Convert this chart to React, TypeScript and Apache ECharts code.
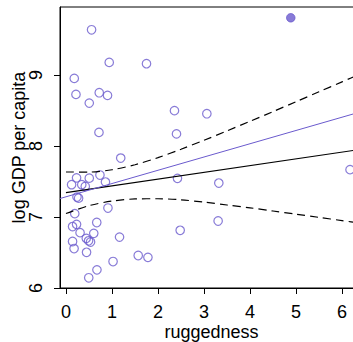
import React, { useEffect, useRef } from "react";
import * as echarts from "echarts";

// Open circles: ruggedness vs log GDP per capita
const ruggedness = [
  0.556, 0.94, 1.75, 0.18, 0.217, 0.506, 0.723, 0.903, 2.358, 0.717, 2.402, 1.19,
  3.062, 6.174, 2.423, 3.322, 2.482, 3.307,
  0.122, 0.23, 0.343, 0.419, 0.506, 0.738, 0.858, 0.239, 0.274, 0.191, 0.912,
  0.143, 0.23, 0.669, 0.306, 0.604, 0.143, 0.176, 0.441, 0.491, 0.534, 0.447,
  1.164, 1.023, 0.673, 0.495, 1.57, 1.781,
];
const logGdp = [
  9.639, 9.179, 9.161, 8.954, 8.728, 8.606, 8.752, 8.714, 8.499, 8.193, 8.172, 7.831,
  8.456, 7.668, 7.545, 7.479, 6.813, 6.944,
  7.456, 7.552, 7.456, 7.432, 7.548, 7.592, 7.493, 7.282, 7.266, 7.048, 7.127,
  6.866, 6.897, 6.923, 6.78, 6.77, 6.655, 6.556, 6.7, 6.665, 6.648, 6.503,
  6.717, 6.373, 6.256, 6.144, 6.458, 6.432,
];
// Filled point
const highlightRuggedness = [4.886];
const highlightLogGdp = [9.808];

// Mean regression line (black)
const meanX = [0, 6.45];
const meanY = [7.345, 7.958];
// Interval (dashed)
const bandX = [0, 0.5, 1, 1.5, 2, 2.5, 3, 3.5, 4, 4.5, 5, 5.5, 6, 6.45];
const upperY = [7.635, 7.634, 7.666, 7.737, 7.837, 7.955, 8.082, 8.214, 8.349, 8.486, 8.625, 8.765, 8.905, 9.031];
const lowerY = [7.05, 7.16, 7.225, 7.255, 7.258, 7.243, 7.21, 7.17, 7.13, 7.085, 7.04, 6.995, 6.95, 6.91];
// Purple fit line
const fitX = [-0.13, 6.456];
const fitY = [7.261, 8.492];

const xTicks = [0, 1, 2, 3, 4, 5, 6];
const yTicks = [6, 7, 8, 9];

const PURPLE = "#6A5ACD";
const FONT = "'Liberation Sans', Arial, Helvetica, sans-serif";

export default function App() {
  const ref = useRef<HTMLDivElement>(null);
  useEffect(() => {
    if (!ref.current) return;
    const chart = echarts.init(ref.current, null, { renderer: "svg" });
    const zip = (xs: number[], ys: number[]) => xs.map((x, i) => [x, ys[i]]);
    chart.setOption({
      animation: false,
      backgroundColor: "#ffffff",
      grid: {
        left: 60,
        top: 7,
        right: -10,
        bottom: 54,
        containLabel: false,
        outerBoundsMode: "none",
        show: true,
        borderColor: "#000",
        borderWidth: 1,
        backgroundColor: "transparent",
      },
      xAxis: {
        type: "value",
        min: -0.13,
        max: 6.456,
        name: "ruggedness",
        nameLocation: "middle",
        nameGap: 35,
        nameMoveOverlap: false,
        nameTextStyle: { fontFamily: FONT, fontSize: 18, color: "#000" },
        axisLine: { show: true, onZero: false, lineStyle: { color: "#000", width: 1 } },
        axisTick: { show: true, length: 6, lineStyle: { color: "#000" }, customValues: xTicks },
        axisLabel: {
          fontFamily: FONT,
          fontSize: 18,
          color: "#000",
          margin: 15,
          customValues: xTicks,
          formatter: (v: number) => String(v),
        },
        splitLine: { show: false },
      },
      yAxis: {
        type: "value",
        min: 6,
        max: 9.96,
        name: "log GDP per capita",
        nameLocation: "middle",
        nameGap: 32,
        nameMoveOverlap: false,
        nameTextStyle: { fontFamily: FONT, fontSize: 18, color: "#000" },
        axisLine: { show: true, onZero: false, lineStyle: { color: "#000", width: 1 } },
        axisTick: { show: true, length: 6, lineStyle: { color: "#000" }, customValues: yTicks },
        axisLabel: {
          fontFamily: FONT,
          fontSize: 18,
          color: "#000",
          margin: 15,
          rotate: 90,
          customValues: yTicks,
          formatter: (v: number) => String(v),
        },
        splitLine: { show: false },
      },
      series: [
        {
          type: "scatter",
          data: zip(ruggedness, logGdp),
          symbol: "circle",
          symbolSize: 8.5,
          itemStyle: { color: "rgba(0,0,0,0)", borderColor: PURPLE, borderWidth: 1.2 },
          z: 2,
        },
        {
          type: "scatter",
          data: zip(highlightRuggedness, highlightLogGdp),
          symbol: "circle",
          symbolSize: 8.5,
          itemStyle: { color: PURPLE, borderColor: PURPLE, borderWidth: 1 },
          z: 2,
        },
        {
          type: "line",
          data: zip(meanX, meanY),
          showSymbol: false,
          lineStyle: { color: "#000", width: 1.2 },
          z: 3,
        },
        {
          type: "line",
          data: zip(bandX, upperY),
          showSymbol: false,
          smooth: 0.3,
          lineStyle: { color: "#000", width: 1.2, type: [8, 5] },
          z: 3,
        },
        {
          type: "line",
          data: zip(bandX, lowerY),
          showSymbol: false,
          smooth: 0.3,
          lineStyle: { color: "#000", width: 1.2, type: [8, 5] },
          z: 3,
        },
        {
          type: "line",
          data: zip(fitX, fitY),
          showSymbol: false,
          lineStyle: { color: PURPLE, width: 1 },
          z: 3,
        },
      ],
    });
    return () => chart.dispose();
  }, []);
  return (
    <div
      ref={ref}
      style={{ position: "fixed", left: 0, top: 0, width: 353, height: 342 }}
    />
  );
}
